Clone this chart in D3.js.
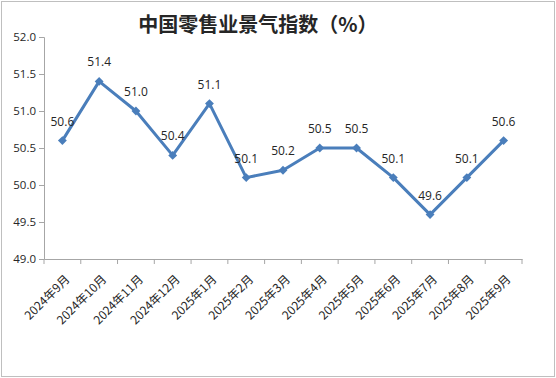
<!DOCTYPE html>
<html>
<head>
<meta charset="utf-8">
<script src="https://cdn.jsdelivr.net/npm/d3@7"></script>
<style>
  body { margin: 0; background: #fff; }
  svg { display: block; font-family: "Noto Sans CJK SC", "DejaVu Sans", sans-serif; }
</style>
</head>
<body>
<div id="chart"></div>
<script>
const months = ["2024年9月", "2024年10月", "2024年11月", "2024年12月", "2025年1月", "2025年2月",
    "2025年3月", "2025年4月", "2025年5月", "2025年6月", "2025年7月", "2025年8月", "2025年9月"];
const index = [50.6, 51.4, 51.0, 50.4, 51.1, 50.1, 50.2, 50.5, 50.5, 50.1, 49.6, 50.1, 50.6];
const yTicks = [49.0, 49.5, 50.0, 50.5, 51.0, 51.5, 52.0];
const title = "中国零售业景气指数（%）";

const w = 556, h = 378;
const lineColor = "#4a7ebb";
const axisColor = "#a6a6a6";
const textColor = "#262626";

const svg = d3.select("#chart")
    .append("svg")
    .attr("width", w)
    .attr("height", h);

// Outer frame
svg.append("rect")
    .attr("x", 1.5).attr("y", 1.5)
    .attr("width", w - 3).attr("height", h - 3)
    .attr("fill", "none")
    .attr("stroke", "#bfbfbf")
    .attr("stroke-width", 1);

svg.append("text")
    .attr("x", 258)
    .attr("y", 32)
    .attr("text-anchor", "middle")
    .attr("font-size", 20)
    .attr("font-weight", "bold")
    .attr("fill", textColor)
    .text(title);

const x = d3.scaleBand()
    .domain(months)
    .range([44, 522]);

const y = d3.scaleLinear()
    .domain([49, 52])
    .range([259, 37]);

// Y axis
const yAxis = svg.append("g")
    .attr("transform", "translate(44,0)")
    .call(d3.axisLeft(y).tickValues(yTicks).tickFormat(d3.format(".1f")).tickSize(5).tickPadding(3));
yAxis.select(".domain").attr("stroke", axisColor);
yAxis.selectAll(".tick line").attr("stroke", axisColor);
yAxis.selectAll("text")
    .attr("font-size", 11.5)
    .attr("fill", textColor)
    .attr("font-family", "'Open Sans', sans-serif");

// X axis
const xAxis = svg.append("g")
    .attr("transform", "translate(0,259)")
    .call(d3.axisBottom(x).tickSize(0).tickFormat(""));
xAxis.select(".domain").attr("stroke", axisColor);
xAxis.selectAll(".tick").remove();

// tick marks at band boundaries
const bounds = months.map(m => x(m)).concat([x.range()[1]]);
svg.append("g")
    .selectAll("line")
    .data(bounds)
    .enter()
    .append("line")
    .attr("x1", d => d).attr("x2", d => d)
    .attr("y1", 259).attr("y2", 264)
    .attr("stroke", axisColor);

// rotated month labels
svg.append("g")
    .selectAll("text")
    .data(months)
    .enter()
    .append("text")
    .attr("transform", d => "translate(" + (x(d) + x.bandwidth() / 2 + 8) + ",280) rotate(-45)")
    .attr("text-anchor", "end")
    .attr("font-size", 12)
    .attr("fill", textColor)
    .text(d => d);

const cx = d => x(d) + x.bandwidth() / 2;

const line = d3.line()
    .x((d, i) => cx(months[i]))
    .y(d => y(d));

svg.append("path")
    .datum(index)
    .attr("d", line)
    .attr("fill", "none")
    .attr("stroke", lineColor)
    .attr("stroke-width", 3)
    .attr("stroke-linejoin", "round");

svg.append("g")
    .selectAll("path")
    .data(index)
    .enter()
    .append("path")
    .attr("d", d3.symbol().type(d3.symbolDiamond2).size(50))
    .attr("transform", (d, i) => "translate(" + cx(months[i]) + "," + y(d) + ")")
    .attr("fill", lineColor);

// value labels
svg.append("g")
    .selectAll("text")
    .data(index)
    .enter()
    .append("text")
    .attr("x", (d, i) => cx(months[i]))
    .attr("y", d => y(d) - 15)
    .attr("text-anchor", "middle")
    .attr("font-size", 12)
    .attr("fill", textColor)
    .attr("font-family", "'Open Sans', sans-serif")
    .text(d => d.toFixed(1));
</script>
</body>
</html>
